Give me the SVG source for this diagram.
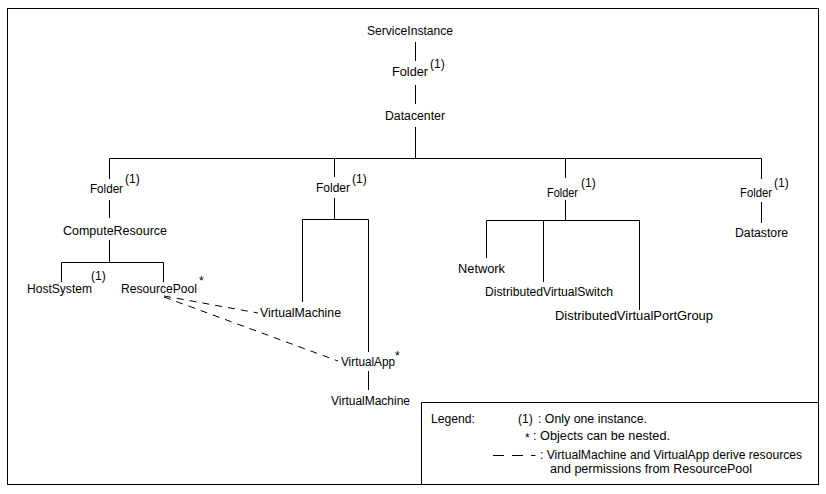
<svg xmlns="http://www.w3.org/2000/svg" width="826" height="494" viewBox="0 0 826 494">
<style>
text{font-family:"Liberation Sans",Arial,sans-serif;font-size:12px;fill:#000}
.c line,.c polyline{stroke:#000;stroke-width:1;fill:none}
.d{stroke-dasharray:7,6}
</style>
<rect x="0" y="0" width="826" height="494" fill="#fff"/>
<rect x="7.5" y="8.5" width="811" height="476" fill="none" stroke="#000"/>
<g id="connectors" class="c">
<line x1="415.5" y1="42" x2="415.5" y2="61"/>
<line x1="415.5" y1="85" x2="415.5" y2="104"/>
<line x1="415.5" y1="127" x2="415.5" y2="158"/>
<polyline points="109.5,179 109.5,158.5 761.5,158.5 761.5,179"/>
<line x1="334.5" y1="158" x2="334.5" y2="177"/>
<line x1="565.5" y1="158" x2="565.5" y2="178"/>
<line x1="109.5" y1="200" x2="109.5" y2="218"/>
<line x1="109.5" y1="240" x2="109.5" y2="262"/>
<polyline points="61.5,282 61.5,262.5 163.5,262.5 163.5,282"/>
<line x1="334.5" y1="198" x2="334.5" y2="219"/>
<polyline points="302.5,302 302.5,219.5 368.5,219.5 368.5,352"/>
<line x1="368.5" y1="371" x2="368.5" y2="390"/>
<line x1="565.5" y1="200" x2="565.5" y2="220"/>
<polyline points="486.5,258 486.5,220.5 639.5,220.5 639.5,310"/>
<line x1="543.5" y1="220" x2="543.5" y2="282"/>
<line x1="761.5" y1="202" x2="761.5" y2="223"/>
<line class="d" x1="164" y1="296" x2="258" y2="313"/>
<line class="d" x1="164" y1="297" x2="338" y2="361"/>
</g>
<g id="ServiceInstance"><text x="367" y="35" textLength="86" lengthAdjust="spacingAndGlyphs">ServiceInstance</text></g>
<g id="Folder-root"><text x="392" y="76" textLength="36" lengthAdjust="spacingAndGlyphs">Folder</text><text x="430" y="68">(1)</text></g>
<g id="Datacenter"><text x="385" y="120" textLength="60" lengthAdjust="spacingAndGlyphs">Datacenter</text></g>
<g id="Folder-host"><text x="90" y="193" textLength="33" lengthAdjust="spacingAndGlyphs">Folder</text><text x="125" y="183">(1)</text></g>
<g id="ComputeResource"><text x="63" y="235" textLength="104" lengthAdjust="spacingAndGlyphs">ComputeResource</text></g>
<g id="HostSystem"><text x="27" y="293" textLength="65" lengthAdjust="spacingAndGlyphs">HostSystem</text><text x="91" y="280">(1)</text></g>
<g id="ResourcePool"><text x="121" y="293" textLength="76" lengthAdjust="spacingAndGlyphs">ResourcePool</text><text x="199" y="285">*</text></g>
<g id="Folder-vm"><text x="316" y="192" textLength="34" lengthAdjust="spacingAndGlyphs">Folder</text><text x="352" y="183">(1)</text></g>
<g id="VirtualMachine-1"><text x="260" y="317" textLength="81" lengthAdjust="spacingAndGlyphs">VirtualMachine</text></g>
<g id="VirtualApp"><text x="341" y="366" textLength="54" lengthAdjust="spacingAndGlyphs">VirtualApp</text><text x="395" y="360">*</text></g>
<g id="VirtualMachine-2"><text x="331" y="405" textLength="79" lengthAdjust="spacingAndGlyphs">VirtualMachine</text></g>
<g id="Folder-network"><text x="547" y="197" textLength="31" lengthAdjust="spacingAndGlyphs">Folder</text><text x="581" y="187">(1)</text></g>
<g id="Network"><text x="458" y="273" textLength="47" lengthAdjust="spacingAndGlyphs">Network</text></g>
<g id="DistributedVirtualSwitch"><text x="485" y="296" textLength="128" lengthAdjust="spacingAndGlyphs">DistributedVirtualSwitch</text></g>
<g id="DistributedVirtualPortGroup"><text x="555" y="320" textLength="158" lengthAdjust="spacingAndGlyphs">DistributedVirtualPortGroup</text></g>
<g id="Folder-datastore"><text x="740" y="197" textLength="32" lengthAdjust="spacingAndGlyphs">Folder</text><text x="774" y="187">(1)</text></g>
<g id="Datastore"><text x="735" y="237" textLength="53" lengthAdjust="spacingAndGlyphs">Datastore</text></g>
<g id="Legend">
<polyline points="421.5,485 421.5,402.5 818,402.5" fill="none" stroke="#000"/>
<text x="431" y="423" textLength="44" lengthAdjust="spacingAndGlyphs">Legend:</text>
<text x="518" y="423">(1)</text>
<text x="538" y="423" textLength="109" lengthAdjust="spacingAndGlyphs">: Only one instance.</text>
<text x="525" y="442">*</text>
<text x="533" y="440" textLength="137" lengthAdjust="spacingAndGlyphs">: Objects can be nested.</text>
<line x1="493" y1="455.5" x2="535.5" y2="455.5" stroke="#000" stroke-dasharray="11,8"/>
<text x="540" y="459" textLength="262" lengthAdjust="spacingAndGlyphs">: VirtualMachine and VirtualApp derive resources</text>
<text x="550" y="473" textLength="202" lengthAdjust="spacingAndGlyphs">and permissions from ResourcePool</text>
</g>
</svg>
